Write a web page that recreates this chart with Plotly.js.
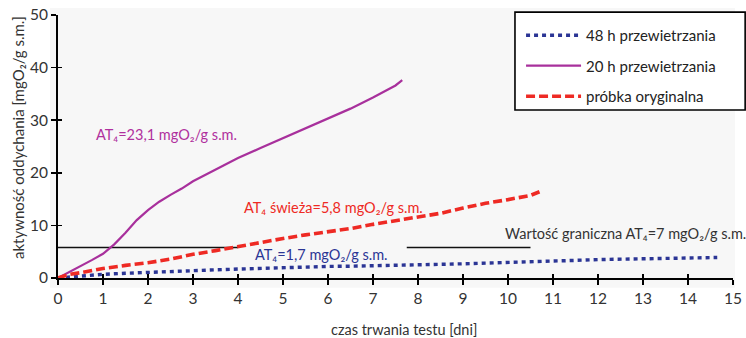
<!DOCTYPE html>
<html><head><meta charset="utf-8">
<script src="https://cdn.plot.ly/plotly-3.0.1.min.js"></script>
<style>html,body{margin:0;padding:0;background:#fff}</style>
</head><body><div id="chart" style="width:746px;height:338px"></div>
<script>
// Data
const days48 = [0,0.5,1,1.5,2,2.5,3,3.5,4,4.5,5,5.5,6,6.5,7,7.5,8,8.5,9,9.5,10,10.5,11,11.5,12,12.5,13,13.5,14,14.65];
const act48  = [0,0.4,0.7,0.9,1.1,1.25,1.4,1.55,1.7,1.85,2.0,2.1,2.2,2.25,2.3,2.4,2.5,2.6,2.7,2.8,2.9,3.0,3.2,3.35,3.5,3.55,3.6,3.7,3.8,3.9];
const days20 = [0,0.25,0.5,0.75,1.0,1.25,1.5,1.75,2.0,2.25,2.5,2.75,3.0,3.25,3.5,3.75,4.0,4.5,5.0,5.5,6.0,6.5,7.0,7.5,7.65];
const act20  = [0,1.1,2.3,3.4,4.6,6.4,8.6,11.0,12.9,14.5,15.8,17.0,18.4,19.5,20.6,21.7,22.8,24.7,26.6,28.5,30.3,32.2,34.3,36.6,37.6];
const daysOrig = [0,0.25,0.5,1,1.5,2,2.5,3,3.5,4,4.5,5,5.5,6,6.5,7,7.5,8,8.5,9,9.5,10,10.5,10.7];
const actOrig  = [0,0.7,1.0,1.8,2.4,2.9,3.6,4.5,5.2,6.0,6.8,7.5,8.2,8.8,9.4,10.2,10.9,11.6,12.3,13.3,14.2,14.9,15.7,16.4];
const threshX1 = [0,4.0];
const threshX2 = [7.75,10.5];
const threshY  = [5.8,5.8];
const names = ['48 h przewietrzania','20 h przewietrzania','próbka oryginalna'];
const xTicks = [0,1,2,3,4,5,6,7,8,9,10,11,12,13,14,15];
const yTicks = [0,10,20,30,40,50];

const F = 'Lato, "Open Sans", "Noto Sans", sans-serif';
const traces = [
  {x:threshX1,y:threshY,mode:'lines',line:{color:'#111',width:1.6},showlegend:false,hoverinfo:'skip'},
  {x:threshX2,y:threshY,mode:'lines',line:{color:'#111',width:1.6},showlegend:false,hoverinfo:'skip'},
  {x:days48,y:act48,name:names[0],mode:'lines',line:{color:'#2b3595',width:3.4,dash:'4px,4px'},legendgroup:'a',cliponaxis:false},
  {x:days20,y:act20,name:names[1],mode:'lines',line:{color:'#a8309c',width:2.2},legendgroup:'b',cliponaxis:false},
  {x:daysOrig,y:actOrig,name:names[2],mode:'lines',line:{color:'#ee2a24',width:3.6,dash:'9px,4px'},legendgroup:'c',cliponaxis:false},
  {x:[0],y:[0],xaxis:'x2',yaxis:'y2',mode:'markers',marker:{opacity:0},showlegend:false,hoverinfo:'skip'}
];
const axCommon = {showgrid:false,zeroline:false,linecolor:'#000',linewidth:2,ticks:'outside',ticklen:5,tickwidth:1.6,tickcolor:'#000',
  tickfont:{family:F,size:15.5,color:'#333'}};
const layout = {
  width:746,height:338,margin:{l:58,r:13,t:15,b:60,autoexpand:false},
  paper_bgcolor:'#fff',plot_bgcolor:'rgba(0,0,0,0)',
  font:{family:F,color:'#333'},
  xaxis:Object.assign({},axCommon,{range:[0,15],tickvals:xTicks,showline:true}),
  yaxis:Object.assign({},axCommon,{range:[0,50],tickvals:yTicks,showline:true}),
  xaxis2:{overlaying:'x',range:[0,15],tickvals:xTicks,ticks:'inside',ticklen:4,tickwidth:1.6,tickcolor:'#000',showticklabels:false,showline:false,showgrid:false,zeroline:false,anchor:'y'},
  yaxis2:{overlaying:'y',range:[0,50],tickvals:yTicks,ticks:'inside',ticklen:4,tickwidth:1.6,tickcolor:'#000',showticklabels:false,showline:false,showgrid:false,zeroline:false,anchor:'x'},
  showlegend:true,
  legend:{x:0.686,xanchor:'left',y:0.985,yanchor:'top',bgcolor:'rgba(0,0,0,0)',borderwidth:0,
    font:{family:F,size:15,color:'#222'},traceorder:'grouped',tracegroupgap:8,itemwidth:55},
  shapes:[
    {type:'rect',xref:'paper',yref:'paper',x0:-0.012,x1:1.003,y0:-0.037,y1:1.027,fillcolor:'#f7f7f7',line:{width:0},layer:'below'},
    {type:'rect',xref:'paper',yref:'paper',x0:0.677,x1:1.018,y0:0.639,y1:1.011,fillcolor:'#fff',line:{width:1.6,color:'#000'},layer:'above'}
  ],
  annotations:[
    {text:'AT₄=23,1 mgO₂/g s.m.',x:2.42,y:27.3,xref:'x',yref:'y',showarrow:false,font:{family:F,size:14.5,color:'#b0309e'}},
    {text:'AT₄ świeża=5,8 mgO₂/g s.m.',x:4.09,y:13.4,xref:'x',yref:'y',xanchor:'left',showarrow:false,font:{family:F,size:14.5,color:'#ee2a24'}},
    {text:'AT₄=1,7 mgO₂/g s.m.',x:4.33,y:4.4,xref:'x',yref:'y',xanchor:'left',showarrow:false,font:{family:F,size:14.5,color:'#2b3595'}},
    {text:'Wartość graniczna AT₄=7 mgO₂/g s.m.',x:9.89,y:8.5,xref:'x',yref:'y',xanchor:'left',showarrow:false,font:{family:F,size:14.5,color:'#333'}},
    {text:'czas trwania testu [dni]',x:0.513,y:-0.196,xref:'paper',yref:'paper',xanchor:'center',yanchor:'middle',showarrow:false,font:{family:F,size:14.5,color:'#333'}},
    {text:'aktywność oddychania [mgO₂/g s.m.]',x:-0.059,y:0.533,xref:'paper',yref:'paper',xanchor:'center',yanchor:'middle',textangle:-90,showarrow:false,font:{family:F,size:15,color:'#333'}}
  ]
};
Plotly.newPlot('chart',traces,layout,{displayModeBar:false,staticPlot:true});
</script></body></html>
